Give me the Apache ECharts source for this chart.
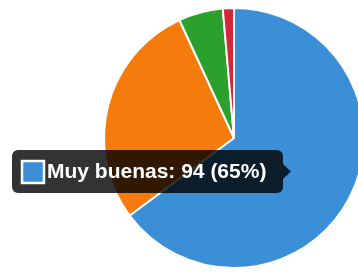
<!DOCTYPE html>
<html>
<head>
<meta charset="utf-8">
<script src="https://cdn.jsdelivr.net/npm/echarts@6/dist/echarts.min.js"></script>
<style>
html,body{margin:0;padding:0;background:#fff;}
#chart{width:358px;height:273px;}
</style>
</head>
<body>
<div id="chart"></div>
<script>
const categories = ['Muy buenas', 'Buenas', 'Regulares', 'Malas'];
const values = [94, 41, 8, 2];
const colors = ['#3a8fd6', '#f57b0c', '#2ca02c', '#d62738'];
const tipIndex = 0;

const total = values.reduce((a, b) => a + b, 0);
const pct = Math.round(values[tipIndex] / total * 100);
const tipText = categories[tipIndex] + ': ' + values[tipIndex] + ' (' + pct + '%)';

const chart = echarts.init(document.getElementById('chart'), null, {renderer: 'canvas'});
chart.setOption({
  animation: false,
  backgroundColor: '#fff',
  series: [{
    type: 'pie',
    center: [234, 138],
    radius: 130,
    startAngle: 90,
    clockwise: true,
    label: {show: false},
    labelLine: {show: false},
    itemStyle: {borderColor: '#fff', borderWidth: 2},
    emphasis: {disabled: true},
    data: categories.map((c, i) => ({name: c, value: values[i], itemStyle: {color: colors[i]}}))
  }],
  graphic: [
    {type: 'rect', shape: {x: 12, y: 150, width: 271, height: 43, r: 6}, style: {fill: 'rgba(0,0,0,0.8)'}, z: 100},
    {type: 'polygon', shape: {points: [[283, 164], [291, 171.5], [283, 179]]}, style: {fill: 'rgba(0,0,0,0.8)'}, z: 100},
    {type: 'rect', shape: {x: 22, y: 161, width: 22, height: 22}, style: {fill: colors[tipIndex], stroke: '#fff', lineWidth: 2.5}, z: 101},
    {type: 'text', x: 47, y: 172, style: {text: tipText, fill: '#fff', font: 'bold 21px "Liberation Sans", Arial, sans-serif', textVerticalAlign: 'middle', verticalAlign: 'middle'}, z: 101}
  ]
});
</script>
</body>
</html>
